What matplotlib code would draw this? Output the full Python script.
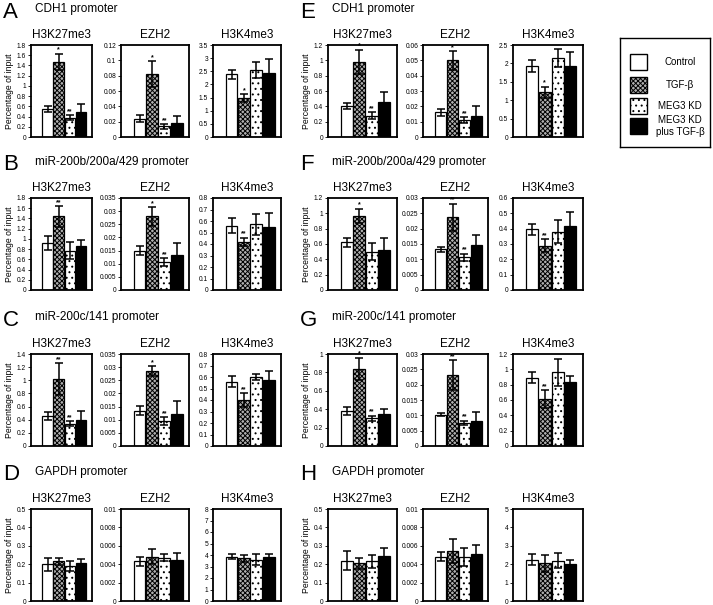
import matplotlib
matplotlib.use("Agg")
import matplotlib.pyplot as plt
from matplotlib.patches import Rectangle
from matplotlib.ticker import FuncFormatter

plt.rcParams['font.family'] = ['Liberation Sans', 'DejaVu Sans']
plt.rcParams['hatch.linewidth'] = 0.7

# groups / legend
groups = ['Control', 'TGF-β', 'MEG3 KD', 'MEG3 KD\nplus TGF-β']
marks = ['H3K27me3', 'EZH2', 'H3K4me3']

# panel letters and promoters
letters = ['A', 'B', 'C', 'D', 'E', 'F', 'G', 'H']
promoters = ['CDH1 promoter', 'miR-200b/200a/429 promoter', 'miR-200c/141 promoter', 'GAPDH promoter',
             'CDH1 promoter', 'miR-200b/200a/429 promoter', 'miR-200c/141 promoter', 'GAPDH promoter']

# means, errors, significance per panel (H3K27me3, EZH2, H3K4me3)
A_mean = [[0.55, 1.47, 0.38, 0.49], [0.024, 0.082, 0.014, 0.018], [2.38, 1.48, 2.55, 2.45]]
A_err = [[0.06, 0.16, 0.05, 0.16], [0.005, 0.017, 0.003, 0.009], [0.17, 0.16, 0.3, 0.5]]
A_sig = [['', '*', '**', ''], ['', '*', '**', ''], ['', '*', '', '']]

B_mean = [[0.92, 1.44, 0.77, 0.86], [0.015, 0.028, 0.0105, 0.0135], [0.56, 0.42, 0.57, 0.55]]
B_err = [[0.13, 0.2, 0.16, 0.12], [0.0018, 0.0035, 0.0015, 0.0045], [0.065, 0.035, 0.09, 0.12]]
B_sig = [['', '**', '', ''], ['', '*', '**', ''], ['', '**', '', '']]

C_mean = [[0.46, 1.02, 0.34, 0.4], [0.0135, 0.0285, 0.0095, 0.0122], [0.56, 0.4, 0.6, 0.57]]
C_err = [[0.06, 0.24, 0.04, 0.14], [0.0018, 0.0018, 0.0015, 0.0048], [0.05, 0.06, 0.03, 0.08]]
C_sig = [['', '**', '**', ''], ['', '*', '**', ''], ['', '**', '', '']]

D_mean = [[0.2, 0.215, 0.19, 0.205], [0.0043, 0.0048, 0.0047, 0.0045], [3.85, 3.7, 3.6, 3.8]]
D_err = [[0.035, 0.02, 0.025, 0.025], [0.0005, 0.0008, 0.0004, 0.0007], [0.2, 0.3, 0.5, 0.3]]
D_sig = [['', '', '', ''], ['', '', '', ''], ['', '', '', '']]

E_mean = [[0.41, 0.98, 0.28, 0.46], [0.016, 0.05, 0.011, 0.014], [1.92, 1.22, 2.15, 1.92]]
E_err = [[0.04, 0.16, 0.04, 0.13], [0.002, 0.006, 0.002, 0.006], [0.16, 0.15, 0.25, 0.4]]
E_sig = [['', '*', '**', ''], ['', '*', '**', ''], ['', '*', '', '']]

F_mean = [[0.62, 0.97, 0.5, 0.52], [0.0133, 0.0237, 0.0107, 0.0147], [0.395, 0.29, 0.38, 0.42]]
F_err = [[0.06, 0.09, 0.11, 0.16], [0.0008, 0.0045, 0.0012, 0.0033], [0.035, 0.04, 0.075, 0.09]]
F_sig = [['', '*', '', ''], ['', '**', '**', ''], ['', '**', '', '']]

G_mean = [[0.38, 0.84, 0.3, 0.35], [0.0102, 0.0232, 0.0075, 0.0082], [0.89, 0.61, 0.96, 0.83]]
G_err = [[0.04, 0.12, 0.03, 0.05], [0.0005, 0.0048, 0.0008, 0.003], [0.07, 0.12, 0.18, 0.08]]
G_sig = [['', '*', '**', ''], ['', '**', '**', ''], ['', '**', '', '']]

H_mean = [[0.22, 0.205, 0.215, 0.245], [0.0048, 0.0054, 0.0048, 0.0051], [2.25, 2.05, 2.2, 2.02]]
H_err = [[0.05, 0.03, 0.035, 0.045], [0.0005, 0.0013, 0.001, 0.001], [0.3, 0.45, 0.4, 0.22]]
H_sig = [['', '', '', ''], ['', '', '', ''], ['', '', '', '']]

# y axis limits / tick steps
A_ylim = [(1.8, 0.2), (0.12, 0.02), (3.5, 0.5)]
B_ylim = [(1.8, 0.2), (0.035, 0.005), (0.8, 0.1)]
C_ylim = [(1.4, 0.2), (0.035, 0.005), (0.8, 0.1)]
D_ylim = [(0.5, 0.1), (0.01, 0.002), (8, 1)]
E_ylim = [(1.2, 0.2), (0.06, 0.01), (2.5, 0.5)]
F_ylim = [(1.2, 0.2), (0.03, 0.005), (0.6, 0.1)]
G_ylim = [(1.0, 0.2), (0.03, 0.005), (1.2, 0.2)]
H_ylim = [(0.5, 0.1), (0.01, 0.002), (5, 1)]

means = [A_mean, B_mean, C_mean, D_mean, E_mean, F_mean, G_mean, H_mean]
errs = [A_err, B_err, C_err, D_err, E_err, F_err, G_err, H_err]
sigs = [A_sig, B_sig, C_sig, D_sig, E_sig, F_sig, G_sig, H_sig]
ylims = [A_ylim, B_ylim, C_ylim, D_ylim, E_ylim, F_ylim, G_ylim, H_ylim]

W, H = 713, 605
fig = plt.figure(figsize=(W / 100, H / 100), dpi=100)

# styles for the four groups
faces = ['white', '#b0b0b0', 'white', 'black']
hatches = [None, 'xxxxxxx', '...', None]

left_cols = [(31, 92), (121, 189), (213, 281)]
right_cols = [(328, 397), (423, 488), (513, 583)]
rows = [(45, 137), (198, 290), (354, 446), (509, 601)]
letter_y = [12, 165, 320, 475]


def px_rect(x0, x1, y0, y1):
    return [x0 / W, 1 - y1 / H, (x1 - x0) / W, (y1 - y0) / H]


def fmt(v, pos):
    return ('%.3f' % v).rstrip('0').rstrip('.') if v != 0 else '0'


for p in range(8):
    cols = left_cols if p < 4 else right_cols
    y0, y1 = rows[p % 4]
    lx = 3 if p < 4 else 300
    fig.text(lx / W, 1 - letter_y[p % 4] / H, letters[p], fontsize=16, va='center', ha='left')
    fig.text((lx + 32) / W, 1 - (letter_y[p % 4] - 3) / H, promoters[p], fontsize=8.5, va='center', ha='left')
    for m in range(3):
        x0, x1 = cols[m]
        ax = fig.add_axes(px_rect(x0, x1, y0, y1))
        vals = means[p][m]
        ers = errs[p][m]
        xs = range(len(vals))
        ax.errorbar(xs, vals, yerr=ers, fmt='none', ecolor='black', elinewidth=1.1,
                    capsize=3, capthick=1.1, zorder=3)
        for i in xs:
            ax.bar(i, vals[i], width=0.95, color=faces[i], edgecolor='black',
                   hatch=hatches[i], linewidth=0.9, zorder=2)
            if sigs[p][m][i]:
                ax.text(i, vals[i] + ers[i], sigs[p][m][i], ha='center', va='bottom',
                        fontsize=5, fontweight='bold')
        top, step = ylims[p][m]
        ax.set_ylim(0, top)
        ax.set_xlim(-1.5, 4.0)
        n = int(round(top / step))
        ax.set_yticks([k * step for k in range(n + 1)])
        ax.yaxis.set_major_formatter(FuncFormatter(fmt))
        ax.tick_params(axis='y', labelsize=4.8, length=2, width=0.6, pad=1.5)
        ax.set_xticks([])
        for s in ax.spines.values():
            s.set_linewidth(1.3)
        ax.set_title(marks[m], fontsize=8.5, pad=5)
        if m == 0:
            ax.set_ylabel('Percentage of input', fontsize=6.2, labelpad=2)

# legend box
lax = fig.add_axes(px_rect(620, 710, 38, 147))
lax.set_xlim(0, 90)
lax.set_ylim(109, 0)
lax.set_xticks([])
lax.set_yticks([])
for s in lax.spines.values():
    s.set_linewidth(1.0)
entry_y = [24, 47, 68, 88]
for i, g in enumerate(groups):
    lax.add_patch(Rectangle((10, entry_y[i] - 8), 17, 16, facecolor=faces[i], edgecolor='black',
                            hatch=hatches[i], linewidth=1.0))
    lax.text(60, entry_y[i], g, ha='center', va='center', fontsize=7, linespacing=1.3)

fig.savefig('out.png', dpi=100)
